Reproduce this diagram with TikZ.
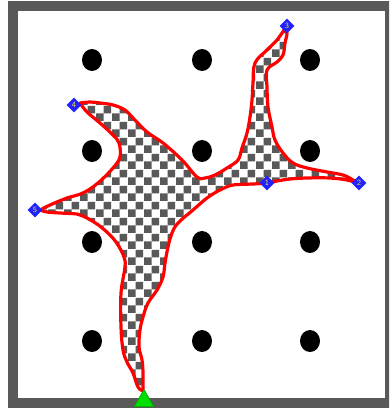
\documentclass[tikz,border=0pt]{standalone}
\usetikzlibrary{shapes.geometric, patterns.meta}

\definecolor{framegray}{HTML}{595959}
\definecolor{wpblue}{HTML}{2222FF}
\definecolor{wpyellow}{HTML}{E8E040}
\definecolor{startgreen}{HTML}{00E000}

\tikzdeclarepattern{
  name=checks,
  bounding box={(0pt,0pt) and (16pt,16pt)},
  tile size={(16pt,16pt)},
  code={
    \fill (0pt,0pt) rectangle (8pt,8pt);
    \fill (8pt,8pt) rectangle (16pt,16pt);
  }
}

\begin{document}
\begin{tikzpicture}[
    x=1pt, y=-1pt,
    dot/.style={ellipse, fill=black, minimum width=20pt, minimum height=22pt, inner sep=0pt},
    wp/.style={diamond, fill=wpblue, minimum size=15pt, inner sep=0pt,
               font=\sffamily\fontsize{8}{8}\selectfont, text=wpyellow},
    outline/.style={draw=red, line width=3.2pt, line join=round,
                    preaction={fill=white}, pattern=checks, pattern color=framegray},
    startmark/.style={regular polygon, regular polygon sides=3, minimum size=23pt,
                      inner sep=0pt, fill=startgreen, draw=green!60!black, line width=0.6pt}
  ]
    \useasboundingbox (0,0) rectangle (389,409);
    \clip (0,0) rectangle (389,409);

    % frame
    \fill[white] (13,6) rectangle (390,403);
    \draw[line width=10pt, framegray] (13,6) rectangle (390,403);

    % grid of dots
    \foreach \gx in {92,202,310}
      \foreach \gy in {60,151,242,341}
        \node[dot] at (\gx,\gy) {};

    % explored region
    \draw[outline]
      plot[smooth, tension=0.6] coordinates {(143,391) (138,387) (133,373) (127,362) (123,350)
        (121,327) (121,293) (125,267) (124,257) (118,245) (110,235) (97,224) (83,216)
        (77,214) (60,213) (47,212) (40,210)}
      -- plot[smooth, tension=0.6] coordinates {(40,210) (50,205) (67,198) (83,193) (98,183)
        (113,168) (120,157) (119,143) (113,135) (100,123) (87,112) (80,103)}
      -- plot[smooth, tension=0.6] coordinates {(80,103) (90,102) (100,103) (113,105) (125,110)
        (133,118) (147,132) (163,143) (182,160) (197,177) (205,178) (215,175) (227,168)
        (238,160) (242,148) (247,133) (250,117) (252,100) (253,83) (255,63) (267,50)
        (277,40) (284,30)}
      -- plot[smooth, tension=0.6] coordinates {(284,30) (287,33) (285,43) (283,55) (277,62)
        (267,70) (267,87) (268,107) (272,127) (275,140) (283,153) (293,163) (307,168)
        (327,172) (343,175) (353,180) (357,183)}
      -- plot[smooth, tension=0.6] coordinates {(357,183) (347,180) (330,178) (307,178)
        (290,179) (277,181) (267,183) (253,184) (233,185) (220,190) (207,198) (193,210)
        (178,223) (172,233) (168,247) (165,263) (163,277) (157,290) (148,303) (143,317)
        (140,330) (139,347) (142,360) (143,373) (143,391)}
      -- cycle;

    % waypoints
    \node[wp] (w1) at (267,183) {1};
    \node[wp] (w2) at (359,183) {2};
    \node[wp] (w3) at (287,26) {3};
    \node[wp] (w4) at (74,105) {4};
    \node[wp] (w5) at (35,210) {5};

    % start
    \node[startmark] (start) at (144,401) {};
\end{tikzpicture}
\end{document}
